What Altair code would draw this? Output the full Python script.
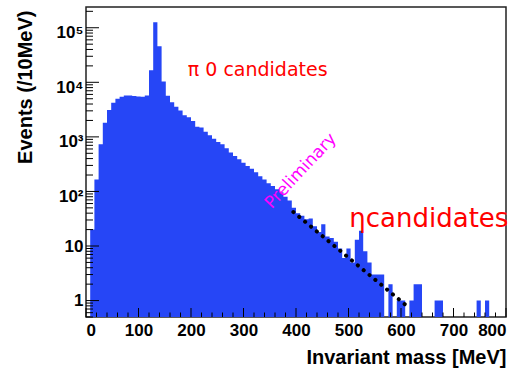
import altair as alt
import pandas as pd

# ---- data ----
bin_width = 8  # MeV, 100 bins from 0 to 800
counts = [
    0, 20, 166, 730, 1820, 3100, 4230, 5000, 5450, 5760,
    5760, 5600, 5500, 5450, 5760, 16600, 126000, 46000, 10300, 5700,
    4300, 3550, 3050, 2480, 2300, 1950, 1540, 1480, 1245, 1070,
    927, 803, 730, 617, 515, 444, 387, 337, 292, 260,
    225, 190, 165, 142, 126, 110, 97, 80, 68, 50,
    40, 36, 31, 32, 23, 18, 25, 15, 14, 12,
    9, 6, 9, 5, 13, 19, 8, 5, 3, 3,
    3, 0, 2, 0, 1, 1, 0, 1, 2, 2,
    0, 0, 0, 1, 1, 0, 0, 0, 0, 0,
    0, 0, 0, 1, 0, 1, 0, 0, 0, 0,
]
fit_x = [395, 611]
fit_y = [42, 0.8]

x_major = [0, 100, 200, 300, 400, 500, 600, 700, 800]
x_minor = [v for v in range(20, 800, 20) if v % 100 != 0]
y_major = [1, 10, 100, 1000, 10000, 100000]
y_minor = [m * 10 ** k for k in range(-1, 6) for m in range(2, 10)
           if 0.5 <= m * 10 ** k <= 2.4e5]

notes_text = ["π 0 candidates", "ηcandidates", "Preliminary"]
notes_x = [327, 653, 409]
notes_y = [13000, 22, 237]

BLUE = "#2646F6"
W, H = 420, 310
FLOOR = 0.5  # bottom of the log axis; empty bins sit on it

# step outline: value of each bin held from its low edge, plus closing edge
edges = [i * bin_width for i in range(len(counts) + 1)]
heights = [c if c > 0 else FLOOR for c in counts] + [FLOOR]
hist = pd.DataFrame({"lo": edges, "count": heights,
                     "base": [FLOOR] * len(edges)})

xscale = alt.Scale(domain=[0, 800], nice=False, zero=False)
yscale = alt.Scale(type="log", domain=[FLOOR, 2.4e5], nice=False)

label_expr = ("datum.value == 1 ? '1' : datum.value == 10 ? '10' : "
              "datum.value == 100 ? '10²' : datum.value == 1000 ? '10³' : "
              "datum.value == 10000 ? '10⁴' : '10⁵'")

xaxis = alt.Axis(
    values=x_major, format="d", labelPadding=5, labelBaseline="top",
    title="Invariant mass [MeV]",
    titleAnchor="end", titleAlign="right", titleBaseline="alphabetic",
    titleX=W, titleY=46)
yaxis = alt.Axis(
    values=y_major, labelExpr=label_expr, labelPadding=3,
    labelBaseline="middle",
    labelOffset={"condition": {"test": "datum.value >= 100", "value": 5},
                 "value": 0},
    title="Events (/10MeV)",
    titleAnchor="end", titleAngle=270, titleAlign="right",
    titleBaseline="middle", titleX=-61, titleY=3)

def X(field):
    return alt.X(field, scale=xscale, axis=xaxis)

def Y(field):
    return alt.Y(field, scale=yscale, axis=yaxis, stack=None)

bars = alt.Chart(hist).mark_area(
    color=BLUE, interpolate="step-after", opacity=1
).encode(x=X("lo:Q"), y=Y("count:Q"), y2="base:Q")

fit = alt.Chart(pd.DataFrame({"x": fit_x, "y": fit_y})).mark_line(
    color="black", strokeWidth=4, strokeDash=[0.1, 7.5], strokeCap="round"
).encode(x=X("x:Q"), y=Y("y:Q"))

def yticks(vals, length):
    return alt.Chart(pd.DataFrame({"v": vals})).mark_rule(
        color="black", strokeWidth=1).encode(
        y=Y("v:Q"), x=alt.value(0), x2=alt.value(length))

def xticks(vals, length):
    return alt.Chart(pd.DataFrame({"v": vals})).mark_rule(
        color="black", strokeWidth=1).encode(
        x=X("v:Q"), y=alt.value(H), y2=alt.value(H - length))

notes = pd.DataFrame({"t": notes_text, "x": notes_x, "y": notes_y})

def note(i, color, size, angle=0):
    return alt.Chart(notes.iloc[[i]]).mark_text(
        color=color, font="DejaVu Sans", fontSize=size, angle=angle,
        align="center", baseline="alphabetic" if angle == 0 else "middle"
    ).encode(x=X("x:Q"), y=Y("y:Q"), text="t:N")

chart = alt.layer(
    bars, fit,
    yticks(y_major, 13), yticks(y_minor, 7),
    xticks(x_major, 9), xticks(x_minor, 4.5),
    note(0, "#FF0000", 19), note(1, "#FF0000", 26), note(2, "#FF00FF", 17, 313),
).properties(
    width=W, height=H, autosize="none",
    padding={"left": 86, "top": 7, "right": 17, "bottom": 53},
    background="white",
).configure_view(stroke="#222222", strokeWidth=1.5).configure_axis(
    ticks=False, domain=False, grid=False,
    labelFont="Liberation Sans", labelFontWeight="bold", labelFontSize=17,
    labelColor="black",
    titleFont="Liberation Sans", titleFontWeight="bold", titleFontSize=20,
    titleColor="black",
)

chart.save("out.html", embed_options={"renderer": "svg", "actions": False})
